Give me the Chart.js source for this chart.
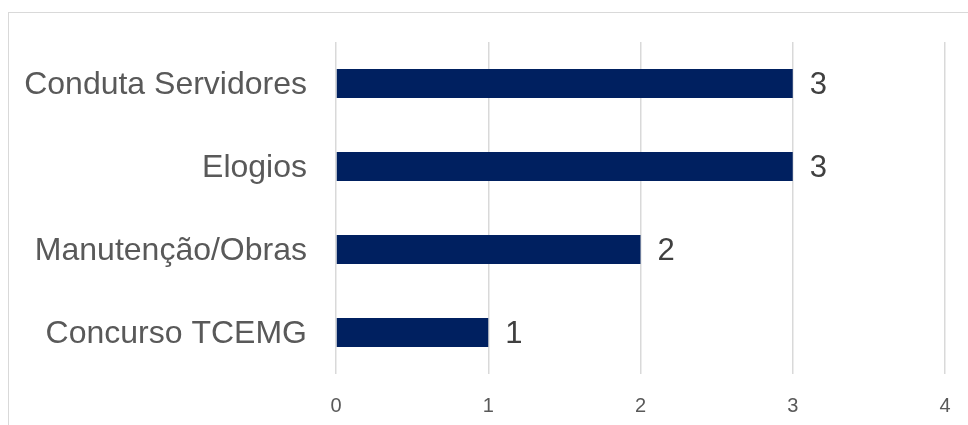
<!DOCTYPE html>
<html>
<head>
<meta charset="utf-8">
<script src="https://cdn.jsdelivr.net/npm/chart.js@4.4.1/dist/chart.umd.min.js"></script>
<style>
  html, body { margin: 0; padding: 0; background: #ffffff; overflow: hidden; }
  #wrap { position: relative; width: 968px; height: 425px; }
  #frame { position: absolute; left: 8px; top: 12px; width: 1200px; height: 800px;
           border: 1.5px solid #d9d9d9; box-sizing: border-box; }
  #c { position: absolute; left: 0; top: 0; }
</style>
</head>
<body>
<div id="wrap">
  <div id="frame"></div>
  <canvas id="c" width="968" height="425"></canvas>
</div>
<script>
// Categories (top to bottom) and their counts
const categories = ['Conduta Servidores', 'Elogios', 'Manutenção/Obras', 'Concurso TCEMG'];
const counts = [3, 3, 2, 1];
// Value axis ticks
const xTicks = [0, 1, 2, 3, 4];

const FONT = '"Liberation Sans", Arial, sans-serif';

// Writes each bar's value just past its end
const valueLabels = {
  id: 'valueLabels',
  afterDatasetsDraw(chart) {
    const ctx = chart.ctx;
    const meta = chart.getDatasetMeta(0);
    ctx.save();
    ctx.font = '31px ' + FONT;
    ctx.fillStyle = '#404040';
    ctx.textAlign = 'left';
    ctx.textBaseline = 'middle';
    meta.data.forEach((bar, i) => {
      ctx.fillText(String(counts[i]), bar.x + 17, bar.y + 2);
    });
    ctx.restore();
  }
};

new Chart(document.getElementById('c'), {
  type: 'bar',
  data: {
    labels: categories,
    datasets: [{
      data: counts,
      backgroundColor: '#002060',
      borderWidth: 0,
      barPercentage: 0.35,
      categoryPercentage: 1
    }]
  },
  options: {
    indexAxis: 'y',
    responsive: false,
    animation: false,
    layout: { padding: { top: 42, right: 23, left: 0, bottom: 0 } },
    plugins: { legend: { display: false }, tooltip: { enabled: false } },
    scales: {
      x: {
        min: 0, max: 4,
        afterBuildTicks(scale) { scale.ticks = xTicks.map(v => ({ value: v })); },
        grid: { color: '#d9d9d9', lineWidth: 1.5, drawTicks: false },
        border: { display: false },
        ticks: { color: '#595959', font: { family: FONT, size: 20 }, padding: 20 },
        afterFit(scale) { scale.height = 51; scale.paddingLeft = 0; scale.paddingRight = 0; }
      },
      y: {
        grid: { display: false, drawTicks: false },
        border: { display: false },
        ticks: { color: '#595959', font: { family: FONT, size: 32 }, padding: 29, labelOffset: 2 },
        afterFit(scale) { scale.width = 336; scale.paddingTop = 0; scale.paddingBottom = 0; }
      }
    }
  },
  plugins: [valueLabels]
});
</script>
</body>
</html>
